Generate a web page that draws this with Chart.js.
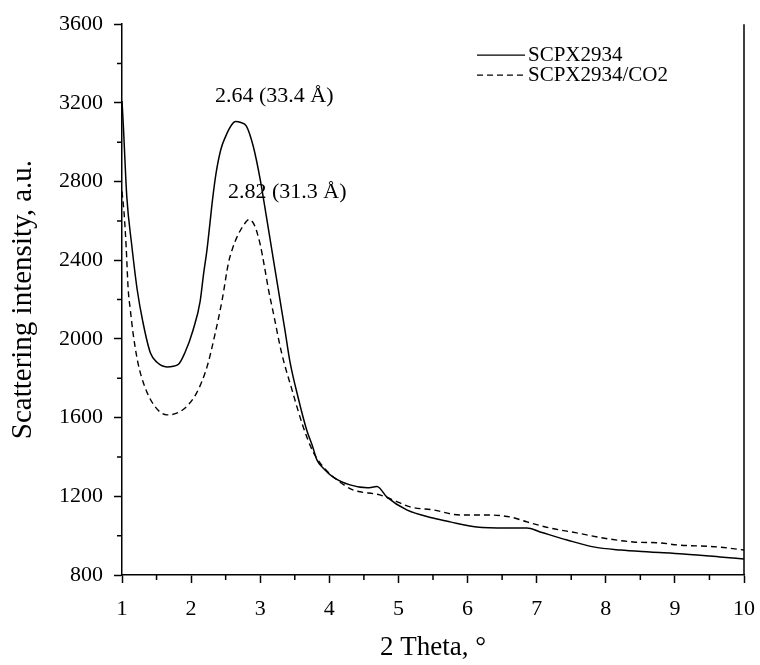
<!DOCTYPE html>
<html lang="en">
<head>
<meta charset="UTF-8">
<title>Scattering intensity</title>
<script src="https://cdn.jsdelivr.net/npm/chart.js"></script>
<style>
    body { margin: 0; background: #fff; }
    .chart-container { position: relative; width: 760px; height: 665px; }
</style>
</head>
<body>
<div class="chart-container"><canvas id="saxsChart" width="760" height="665"></canvas></div>
<script>
// SCPX2934 (solid)
const thetaPure = [1.0, 1.02, 1.07, 1.14, 1.22, 1.30, 1.41, 1.51, 1.65, 1.81, 1.91, 2.03, 2.13, 2.18, 2.23, 2.27,
    2.31, 2.36, 2.43, 2.50, 2.59, 2.64, 2.72, 2.80, 2.90, 3.00, 3.09, 3.19, 3.29, 3.36, 3.43,
    3.55, 3.67, 3.76, 3.82, 3.92, 4.05, 4.30, 4.55, 4.69, 4.83, 5.12, 5.50, 5.75, 6.13, 6.57, 6.86,
    7.05, 7.44, 7.82, 8.21, 8.64, 9.12, 9.65, 10.0];
const intensityPure = [3210, 3080, 2720, 2480, 2250, 2090, 1930, 1880, 1858, 1869, 1930, 2047, 2190, 2330, 2454, 2580,
    2708, 2840, 2963, 3030, 3090, 3105, 3100, 3082, 2978, 2810, 2620, 2405, 2190, 2040, 1885,
    1700, 1540, 1451, 1385, 1340, 1299, 1258, 1243, 1250, 1197, 1131, 1090, 1070, 1044, 1039, 1039,
    1019, 978, 943, 927, 917, 907, 892, 881];

// SCPX2934/CO2 (dashed)
const thetaCO2 = [1.0, 1.03, 1.06, 1.09, 1.12, 1.16, 1.23, 1.33, 1.48, 1.65, 1.88, 2.08, 2.23, 2.35, 2.45, 2.54,
    2.60, 2.66, 2.75, 2.84, 2.92, 3.00, 3.06, 3.12, 3.19, 3.31, 3.46, 3.62, 3.76, 3.91, 4.11, 4.34,
    4.73, 4.92, 5.17, 5.50, 5.89, 6.28, 6.62, 6.86, 7.19, 7.58, 7.96, 8.40, 8.79, 9.03, 9.61, 10.0];
const intensityCO2 = [2750, 2640, 2470, 2250, 2150, 2030, 1880, 1757, 1655, 1614, 1640, 1726, 1858, 2031, 2200, 2386,
    2460, 2515, 2573, 2607, 2575, 2480, 2370, 2250, 2132, 1928, 1741, 1555, 1430, 1350, 1284, 1233,
    1207, 1182, 1146, 1131, 1105, 1105, 1095, 1070, 1039, 1014, 988, 968, 963, 953, 943, 927];

const seriesNames = ['SCPX2934', 'SCPX2934/CO2'];
const peakLabels = ['2.64 (33.4 Å)', '2.82 (31.3 Å)'];

const serif = 'Liberation Serif';

function toPoints(xs, ys) {
    return xs.map((x, i) => ({ x: x, y: ys[i] }));
}

// short ticks between the labelled ones, plus the right frame line
const minorTicks = {
    id: 'minorTicks',
    afterDraw(chart) {
        const { ctx, chartArea } = chart;
        const xs = chart.scales.x, ys = chart.scales.y;
        ctx.save();
        ctx.strokeStyle = '#000';
        ctx.lineWidth = 1.5;
        ctx.beginPath();
        for (let i = 0; i < xs.ticks.length - 1; i++) {
            const px = xs.getPixelForValue((xs.ticks[i].value + xs.ticks[i + 1].value) / 2);
            ctx.moveTo(px, chartArea.bottom);
            ctx.lineTo(px, chartArea.bottom + 5);
        }
        for (let i = 0; i < ys.ticks.length - 1; i++) {
            const py = ys.getPixelForValue((ys.ticks[i].value + ys.ticks[i + 1].value) / 2);
            ctx.moveTo(chartArea.left, py);
            ctx.lineTo(chartArea.left - 5, py);
        }
        ctx.moveTo(chartArea.right, chartArea.top);
        ctx.lineTo(chartArea.right, chartArea.bottom);
        ctx.stroke();
        ctx.restore();
    }
};

// legend in the top right corner with line samples
const lineLegend = {
    id: 'lineLegend',
    afterDraw(chart) {
        const { ctx, chartArea } = chart;
        ctx.save();
        ctx.font = '21px "' + serif + '"';
        ctx.fillStyle = '#000';
        ctx.textBaseline = 'middle';
        chart.data.datasets.forEach((ds, i) => {
            const y = chartArea.top + 31 + i * 20;
            const x0 = chartArea.right - 267;
            ctx.strokeStyle = '#000';
            ctx.lineWidth = 1.3;
            ctx.setLineDash(ds.borderDash || []);
            ctx.beginPath();
            ctx.moveTo(x0, y);
            ctx.lineTo(x0 + 48, y);
            ctx.stroke();
            ctx.setLineDash([]);
            ctx.fillText(ds.label, x0 + 51, y);
        });
        ctx.restore();
    }
};

// peak annotations, anchored in data units
const peakNotes = {
    id: 'peakNotes',
    afterDraw(chart, args, opts) {
        const { ctx } = chart;
        const xs = chart.scales.x, ys = chart.scales.y;
        ctx.save();
        ctx.font = '22px "' + serif + '"';
        ctx.fillStyle = '#000';
        ctx.textBaseline = 'middle';
        ctx.textAlign = 'left';
        opts.anchors.forEach((a, i) => {
            ctx.fillText(peakLabels[i], xs.getPixelForValue(a[0]), ys.getPixelForValue(a[1]));
        });
        ctx.restore();
    }
};

new Chart(document.getElementById('saxsChart'), {
    type: 'line',
    data: {
        datasets: [{
            label: seriesNames[0],
            data: toPoints(thetaPure, intensityPure),
            borderColor: '#000',
            borderWidth: 1.5,
            pointRadius: 0,
            cubicInterpolationMode: 'monotone',
            fill: false
        }, {
            label: seriesNames[1],
            data: toPoints(thetaCO2, intensityCO2),
            borderColor: '#000',
            borderWidth: 1.4,
            borderDash: [6, 4],
            pointRadius: 0,
            cubicInterpolationMode: 'monotone',
            fill: false
        }]
    },
    options: {
        responsive: false,
        animation: false,
        layout: { padding: { left: 0, top: 24, right: 16, bottom: 0 } },
        plugins: {
            legend: { display: false },
            tooltip: { enabled: false },
            peakNotes: { anchors: [[2.346, 3233], [2.534, 2744]] }
        },
        scales: {
            x: {
                type: 'linear',
                min: 1,
                max: 10,
                ticks: {
                    stepSize: 1, color: '#000', padding: 13,
                    font: { family: serif, size: 22 },
                    callback: v => String(v)
                },
                grid: { drawOnChartArea: false, tickLength: 8, tickColor: '#000', tickWidth: 1.5 },
                border: { color: '#000', width: 1.5 },
                title: {
                    display: true,
                    text: '2 Theta, °',
                    color: '#000',
                    font: { family: serif, size: 27 },
                    padding: { top: 0, bottom: 1 }
                },
                afterFit(scale) {
                    scale.height = 90;
                    // keep the "10" label from pushing the plot edge inwards
                    scale.paddingRight = 0;
                    scale.paddingLeft = 0;
                }
            },
            y: {
                min: 800,
                max: 3600,
                ticks: {
                    stepSize: 400, color: '#000', padding: 11,
                    font: { family: serif, size: 22 },
                    callback: v => String(v)
                },
                grid: { drawOnChartArea: false, tickLength: 8, tickColor: '#000', tickWidth: 1.5 },
                border: { color: '#000', width: 1.5 },
                title: {
                    display: true,
                    text: 'Scattering intensity, a.u.',
                    color: '#000',
                    font: { family: serif, size: 29 },
                    padding: { top: 6, bottom: 0 }
                },
                afterFit(scale) { scale.width = 122; }
            }
        }
    },
    plugins: [minorTicks, lineLegend, peakNotes]
});
</script>
</body>
</html>
